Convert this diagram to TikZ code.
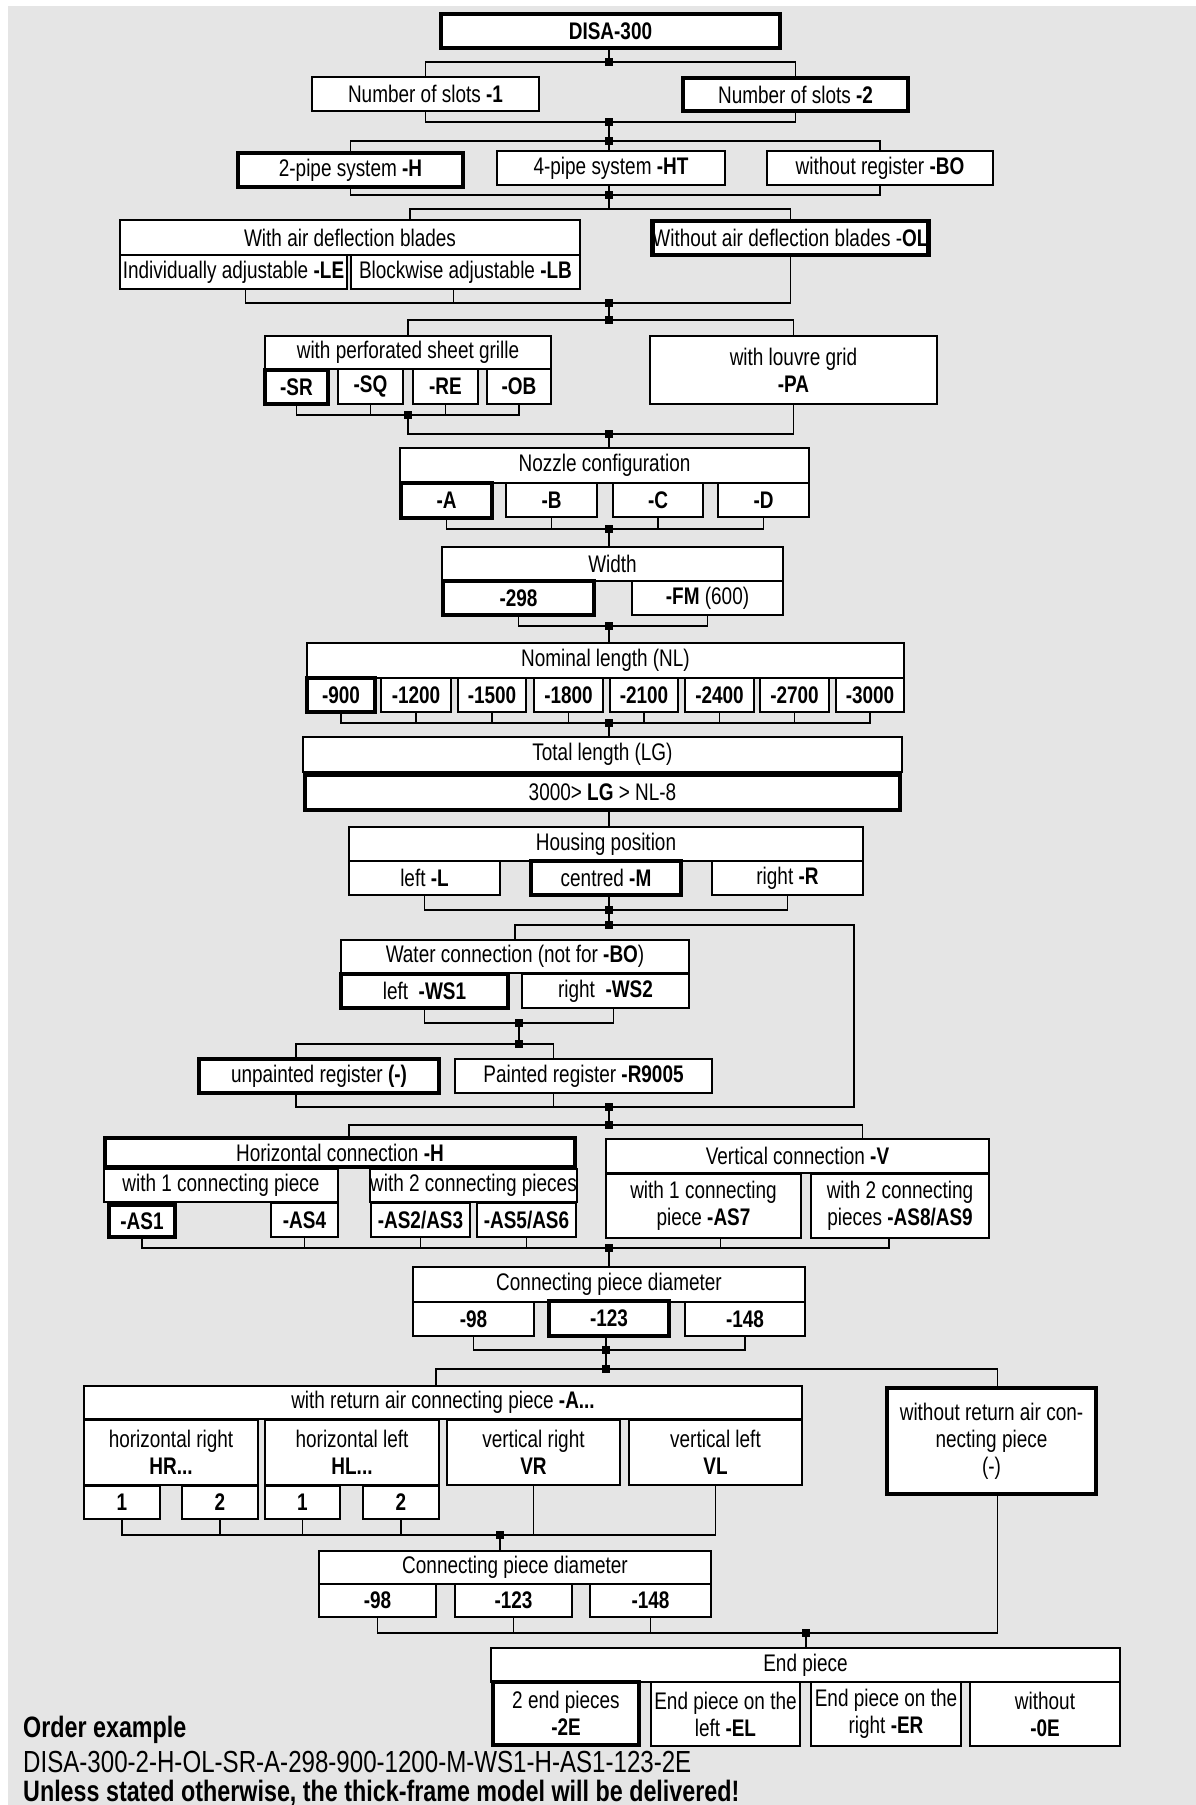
\documentclass[tikz,border=0pt]{standalone}
\usepackage{fontspec}
\setmainfont[FakeStretch=0.79]{Liberation Sans}
\usepackage{tikz}

\begin{document}
\begin{tikzpicture}[x=1pt, y=-1pt,
  opt/.style={draw, fill=white, line width=1.5pt, inner sep=0pt, align=center, font=\fontsize{24}{27}\selectfont},
  sel/.style={opt, line width=4.8pt},
  wh/.style 2 args={minimum width=#1pt, minimum height=#2pt},
  ln/.style={line width=1.5pt},
  jn/.style={fill=black, inner sep=0pt, minimum size=8pt},
  note/.style={anchor=west, inner sep=0pt, font=\fontsize{29.5}{33}\selectfont}]
\useasboundingbox (0,0) rectangle (1196,1805);
\fill[black!10] (8,6) rectangle (1196,1805);

\node[sel, wh={339}{34}] (disa) at (610.5,31) {\textbf{DISA-300}};
\node[opt, wh={227}{34}] (slotA) at (425.5,94) {Number of slots \textbf{-1}};
\node[sel, wh={225}{33}] (slotB) at (795.5,94.5) {Number of slots \textbf{-2}};
\node[sel, wh={225}{34}] (pipeH) at (350.5,170) {2-pipe system \textbf{-H}};
\node[opt, wh={228}{34}] (pipeHT) at (611,168) {4-pipe system \textbf{-HT}};
\node[opt, wh={226}{34}] (pipeBO) at (880,168) {without register \textbf{-BO}};
\node[opt, wh={460}{35}] (airHead) at (350,237.5) {With air deflection blades};
\node[opt, wh={227}{34}] (airLE) at (233.5,272) {Individually adjustable \textbf{-LE}};
\node[opt, wh={229}{34}] (airLB) at (465.5,272) {Blockwise adjustable \textbf{-LB}};
\node[sel, wh={273}{34}] (airOL) at (790.5,238) {Without air deflection blades -\textbf{OL}};
\node[opt, wh={286}{33}] (perfHead) at (408,352.5) {with perforated sheet grille};
\node[opt, wh={65}{35}] (SQ) at (370.5,386.5) {\textbf{-SQ}};
\node[opt, wh={65}{35}] (RE) at (445.5,386.5) {\textbf{-RE}};
\node[opt, wh={64}{35}] (OB) at (519,386.5) {\textbf{-OB}};
\node[sel, wh={63}{34}] (SR) at (296.5,387) {\textbf{-SR}};
\node[opt, wh={287}{68}] (louvre) at (793.5,370) {with louvre grid\\\textbf{-PA}};
\node[opt, wh={409}{35}] (nozHead) at (604.5,465.5) {Nozzle configuration};
\node[sel, wh={91}{35}] (nozA) at (446.5,500.5) {\textbf{-A}};
\node[opt, wh={91}{34}] (nozB) at (551.5,500) {\textbf{-B}};
\node[opt, wh={90}{34}] (nozC) at (658,500) {\textbf{-C}};
\node[opt, wh={91}{34}] (nozD) at (763.5,500) {\textbf{-D}};
\node[opt, wh={341}{34}] (widHead) at (612.5,564) {Width};
\node[sel, wh={151}{34}] (w298) at (518.5,598) {\textbf{-298}};
\node[opt, wh={151}{34}] (wFM) at (707.5,598) {\textbf{-FM} (600)};
\node[opt, wh={597}{35}] (nlHead) at (605.5,660.5) {Nominal length (NL)};
\node[opt, wh={70}{34}] (nl1200) at (416,695) {\textbf{-1200}};
\node[opt, wh={68}{34}] (nl1500) at (492,695) {\textbf{-1500}};
\node[opt, wh={69}{34}] (nl1800) at (568.5,695) {\textbf{-1800}};
\node[opt, wh={68}{34}] (nl2100) at (644,695) {\textbf{-2100}};
\node[opt, wh={69}{34}] (nl2400) at (719.5,695) {\textbf{-2400}};
\node[opt, wh={69}{34}] (nl2700) at (794.5,695) {\textbf{-2700}};
\node[opt, wh={68}{34}] (nl3000) at (870,695) {\textbf{-3000}};
\node[sel, wh={68}{34}] (nl900) at (341,695) {\textbf{-900}};
\node[opt, wh={599}{35}] (lgHead) at (602.5,754.5) {Total length (LG)};
\node[sel, wh={595}{35}] (lgVal) at (602.5,792.5) {3000> \textbf{LG} > NL-8};
\node[opt, wh={514}{34}] (housHead) at (606,844) {Housing position};
\node[opt, wh={151}{34}] (housL) at (424.5,878) {left \textbf{-L}};
\node[sel, wh={150}{34}] (housM) at (606,878) {centred \textbf{-M}};
\node[opt, wh={151}{34}] (housR) at (787.5,878) {right \textbf{-R}};
\node[opt, wh={348}{33}] (waterHead) at (515,956.5) {Water connection (not for \textbf{-BO})};
\node[sel, wh={167}{34}] (ws1) at (424.5,991) {left\ \ \textbf{-WS1}};
\node[opt, wh={167}{34}] (ws2) at (605.5,991) {right\ \ \textbf{-WS2}};
\node[sel, wh={240}{34}] (unpainted) at (319,1076) {unpainted register \textbf{(-)}};
\node[opt, wh={257}{34}] (painted) at (583.5,1076) {Painted register \textbf{-R9005}};
\node[opt, wh={234}{33}] (hor1) at (221,1185.5) {with 1 connecting piece};
\node[opt, wh={205}{33}] (hor2) at (473.5,1185.5) {with 2 connecting pieces};
\node[sel, wh={470}{29}] (horHead) at (340,1152.5) {Horizontal connection \textbf{-H}};
\node[sel, wh={66}{32}] (as1) at (142,1221) {\textbf{-AS1}};
\node[opt, wh={67}{34}] (as4) at (304.5,1220) {\textbf{-AS4}};
\node[opt, wh={99}{34}] (as23) at (420.5,1220) {\textbf{-AS2/AS3}};
\node[opt, wh={99}{34}] (as56) at (526.5,1220) {\textbf{-AS5/AS6}};
\node[opt, wh={383}{34}] (verHead) at (797.5,1156) {Vertical connection \textbf{-V}};
\node[opt, wh={195}{64}] (as7) at (703.5,1206) {with 1 connecting\\piece \textbf{-AS7}};
\node[opt, wh={178}{64}] (as89) at (900,1206) {with 2 connecting\\pieces \textbf{-AS8/AS9}};
\node[opt, wh={392}{35}] (cpdHead) at (609,1284.5) {Connecting piece diameter};
\node[opt, wh={121}{34}] (cpd98) at (473.5,1319) {\textbf{-98}};
\node[sel, wh={120}{35}] (cpd123) at (609,1318.5) {\textbf{-123}};
\node[opt, wh={120}{34}] (cpd148) at (745,1319) {\textbf{-148}};
\node[opt, wh={718}{33}] (retHead) at (443,1402.5) {with return air connecting piece \textbf{-A...}};
\node[opt, wh={174}{65}] (hr) at (171,1452.5) {horizontal right\\\textbf{HR...}};
\node[opt, wh={174}{65}] (hl) at (352,1452.5) {horizontal left\\\textbf{HL...}};
\node[opt, wh={173}{65}] (vr) at (533.5,1452.5) {vertical right\\\textbf{VR}};
\node[opt, wh={173}{65}] (vl) at (715.5,1452.5) {vertical left\\\textbf{VL}};
\node[opt, wh={76}{33}] (hr1) at (122,1502.5) {\textbf{1}};
\node[opt, wh={76}{33}] (hr2) at (220,1502.5) {\textbf{2}};
\node[opt, wh={75}{33}] (hl1) at (302.5,1502.5) {\textbf{1}};
\node[opt, wh={76}{33}] (hl2) at (401,1502.5) {\textbf{2}};
\node[sel, wh={209}{106}] (noret) at (991.5,1441) {without return air con-\\necting piece\\(-)};
\node[opt, wh={392}{33}] (cpd2Head) at (515,1567.5) {Connecting piece diameter};
\node[opt, wh={117}{33}] (c98) at (377.5,1600.5) {\textbf{-98}};
\node[opt, wh={117}{33}] (c123) at (513.5,1600.5) {\textbf{-123}};
\node[opt, wh={121}{33}] (c148) at (650.5,1600.5) {\textbf{-148}};
\node[opt, wh={629}{34}] (endHead) at (805.5,1665) {End piece};
\node[opt, wh={149}{64}] (eEL) at (725.5,1714) {End piece on the\\left \textbf{-EL}};
\node[opt, wh={150}{64}] (eER) at (886,1714) {End piece on the\\right \textbf{-ER}};
\node[opt, wh={150}{64}] (eOE) at (1045,1714) {without\\\textbf{-0E}};
\node[sel, wh={146}{63}] (e2E) at (566,1713.5) {2 end pieces\\\textbf{-2E}};

\node[note] (ordTitle) at (23,1730) {\textbf{Order example}};
\node[note, font=\fontsize{30.5}{33}\selectfont] (ordCode) at (23,1762) {DISA-300-2-H-OL-SR-A-298-900-1200-M-WS1-H-AS1-123-2E};
\node[note] (ordNote) at (23,1793) {\textbf{Unless stated otherwise, the thick-frame model will be delivered!}};

\node[jn] (j1) at (609,62) {};
\node[jn] (j2) at (609,122) {};
\node[jn] (j3) at (609,141) {};
\node[jn] (j4) at (609,195) {};
\coordinate (j5) at (609,209);
\node[jn] (j6) at (609,303) {};
\node[jn] (j7) at (609,320) {};
\node[jn] (j8) at (408,415) {};
\node[jn] (j9) at (609,434) {};
\node[jn] (j10) at (609,529) {};
\node[jn] (j11) at (609,626) {};
\node[jn] (j12) at (609,723) {};
\node[jn] (j13) at (609,910) {};
\node[jn] (j14) at (609,925) {};
\node[jn] (j15) at (519,1023) {};
\node[jn] (j16) at (519,1044) {};
\node[jn] (j17) at (609,1107) {};
\node[jn] (j18) at (609,1125) {};
\node[jn] (j19) at (609,1248) {};
\node[jn] (j20) at (606,1350) {};
\node[jn] (j21) at (606,1369) {};
\node[jn] (j22) at (500,1535) {};
\node[jn] (j23) at (806,1633) {};
\coordinate (byp) at (854,1000);

\draw[ln] (disa.south -| j1) -- (j1);
\draw[ln] (slotA.north) |- (j1) -| (slotB.north);
\draw[ln] (slotA.south) |- (j2) -| (slotB.south);
\draw[ln] (j2) -- (j3);
\draw[ln] (pipeH.north) |- (j3) -| (pipeBO.north);
\draw[ln] (pipeHT.north -| j3) -- (j3);
\draw[ln] (pipeH.south) |- (j4) -| (pipeBO.south);
\draw[ln] (pipeHT.south -| j4) -- (j4);
\draw[ln] (j4) -- (j5);
\draw[ln] ([xshift=60pt]airHead.north) |- (j5) -| (airOL.north);
\draw[ln] ([xshift=12pt]airLE.south) |- (j6) -| (airOL.south);
\draw[ln] ([xshift=-12pt]airLB.south) |- (j6);
\draw[ln] (j6) -- (j7);
\draw[ln] (perfHead.north) |- (j7) -| (louvre.north);
\draw[ln] (SR.south) |- (j8) -| (OB.south);
\draw[ln] (SQ.south) |- (j8);
\draw[ln] (RE.south) |- (j8);
\draw[ln] (j8) |- (j9) -| (louvre.south);
\draw[ln] (j9) -- (nozHead.north -| j9);
\draw[ln] (nozA.south) |- (j10) -| (nozD.south);
\draw[ln] (nozB.south) |- (j10);
\draw[ln] (nozC.south) |- (j10);
\draw[ln] (j10) -- (widHead.north -| j10);
\draw[ln] (w298.south) |- (j11) -| (wFM.south);
\draw[ln] (j11) -- (nlHead.north -| j11);
\draw[ln] (nl900.south) |- (j12) -| (nl3000.south);
\foreach \n in {nl1200,nl1500,nl1800,nl2100,nl2400,nl2700}
  \draw[ln] (\n.south) |- (j12);
\draw[ln] (j12) -- (lgHead.north -| j12);
\draw[ln] (lgVal.south -| j12) -- (housHead.north -| j12);
\draw[ln] (housL.south) |- (j13) -| (housR.south);
\draw[ln] (housM.south -| j13) -- (j13);
\draw[ln] (j13) -- (j14);
\draw[ln] (waterHead.north) |- (j14) -| (byp) |- (j17);
\draw[ln] (ws1.south) |- (j15) -| ([xshift=8pt]ws2.south);
\draw[ln] (j15) -- (j16);
\draw[ln] ([xshift=-23pt]unpainted.north) |- (j16) -| ([xshift=-30pt]painted.north);
\draw[ln] ([xshift=-23pt]unpainted.south) |- (j17);
\draw[ln] ([xshift=-30pt]painted.south) |- (j17);
\draw[ln] (j17) -- (j18);
\draw[ln] ([xshift=9pt]horHead.north) |- (j18) -| ([xshift=65pt]verHead.north);
\draw[ln] (as1.south) |- (j19) -| ([xshift=-11pt]as89.south);
\foreach \n in {as4,as23,as56}
  \draw[ln] (\n.south) |- (j19);
\draw[ln] ([xshift=17pt]as7.south) |- (j19);
\draw[ln] (j19) -- (cpdHead.north -| j19);
\draw[ln] (cpd98.south) |- (j20) -| (cpd148.south);
\draw[ln] (cpd123.south -| j20) -- (j20);
\draw[ln] (j20) -- (j21);
\draw[ln] ([xshift=-7pt]retHead.north) |- (j21) -| ([xshift=6pt]noret.north);
\draw[ln] (hr1.south) |- (j22) -| (vl.south);
\foreach \n in {hr2,hl1,hl2,vr}
  \draw[ln] (\n.south) |- (j22);
\draw[ln] (j22) -- (cpd2Head.north -| j22);
\draw[ln] (c98.south) |- (j23) -| ([xshift=6pt]noret.south);
\draw[ln] (c123.south) |- (j23);
\draw[ln] (c148.south) |- (j23);
\draw[ln] (j23) -- (endHead.north -| j23);
\end{tikzpicture}
\end{document}
